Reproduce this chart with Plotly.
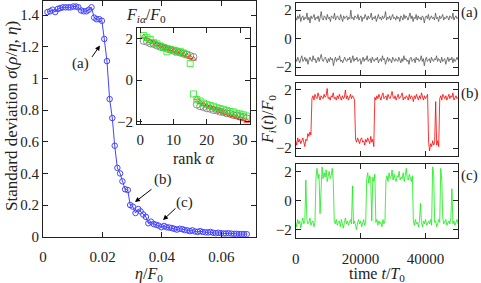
import numpy as np
import plotly.graph_objects as go

# ---------------- data ----------------
eta = [0.0015, 0.0024, 0.0032, 0.0041, 0.0050, 0.0058, 0.0067, 0.0076, 0.0085, 0.0093,
       0.0102, 0.0111, 0.0119, 0.0128, 0.0137, 0.0146, 0.0154, 0.0163, 0.0172, 0.0180,
       0.0189, 0.0198, 0.0206, 0.0215, 0.0224, 0.0233, 0.0241, 0.0250, 0.0259, 0.0267,
       0.0276, 0.0285, 0.0293, 0.0302, 0.0311, 0.0320, 0.0328, 0.0337, 0.0346, 0.0354,
       0.0363, 0.0372, 0.0381, 0.0389, 0.0398, 0.0407, 0.0415, 0.0424, 0.0433, 0.0441,
       0.0450, 0.0459, 0.0468, 0.0476, 0.0485, 0.0494, 0.0502, 0.0511, 0.0520, 0.0528,
       0.0537, 0.0546, 0.0555, 0.0563, 0.0572, 0.0581, 0.0589, 0.0598, 0.0607, 0.0615,
       0.0624, 0.0633, 0.0642, 0.0650, 0.0659, 0.0668, 0.0676, 0.0685]
sigma = [1.42, 1.425, 1.435, 1.42, 1.44, 1.445, 1.45, 1.45, 1.45, 1.45,
         1.455, 1.455, 1.45, 1.43, 1.425, 1.425, 1.435, 1.45, 1.385, 1.375,
         1.375, 1.365, 1.25, 1.11, 0.87, 0.75, 0.575, 0.435, 0.40, 0.35,
         0.30, 0.295, 0.20, 0.19, 0.15, 0.175, 0.16, 0.14, 0.125, 0.085,
         0.095, 0.08, 0.075, 0.07, 0.06, 0.068, 0.06, 0.058, 0.055, 0.05,
         0.045, 0.05, 0.048, 0.042, 0.04, 0.035, 0.04, 0.033, 0.03, 0.035,
         0.03, 0.028, 0.027, 0.03, 0.025, 0.022, 0.025, 0.022, 0.02, 0.02,
         0.022, 0.019, 0.018, 0.018, 0.017, 0.017, 0.016, 0.016]

rank = [1, 2, 3, 4, 5, 6, 7, 8, 9, 10, 11, 12, 13, 14, 15, 16,
        17, 18, 19, 20, 21, 22, 23, 24, 25, 26, 27, 28, 29, 30, 31, 32]
F_gray = [1.88, 1.84, 1.76, 1.73, 1.66, 1.60, 1.57, 1.51, 1.47, 1.41, 1.39, 1.32, 1.27, 1.23, 1.17, 1.11,
          -1.17, -1.25, -1.29, -1.35, -1.37, -1.43, -1.45, -1.51, -1.53, -1.59, -1.61, -1.67, -1.69, -1.75, -1.77, -1.83]
F_red = [2.08, 1.98, 1.86, 1.80, 1.72, 1.65, 1.60, 1.53, 1.49, 1.42, 1.37, 1.32, 1.25, 1.18, 1.10, 1.02,
         -0.88, -1.05, -1.15, -1.22, -1.30, -1.35, -1.42, -1.48, -1.53, -1.60, -1.66, -1.70, -1.76, -1.82, -1.88, -1.96]
F_green = [2.14, 2.04, 1.95, 1.80, 1.74, 1.64, 1.56, 1.36, 1.48, 1.44, 1.34, 1.38, 1.30, 1.22, 0.80,
           -0.66, -0.92, -1.00, -1.10, -1.16, -1.22, -1.25, -1.32, -1.36, -1.40, -1.45, -1.50, -1.52, -1.58, -1.62, -1.66, -1.72]

a_top = [1.5, 1.3, 1.6, 1.4, 1.7, 1.2, 1.5, 1.6, 1.3, 1.5,
         1.4, 1.8, 1.3, 1.5, 1.1, 1.6, 1.4, 1.5, 1.7, 1.3,
         1.5, 1.4, 1.6, 1.2, 1.5, 1.9, 1.4, 1.3, 1.6, 1.5,
         1.3, 1.7, 1.4, 1.5, 1.2, 1.6, 1.5, 1.4, 1.8, 1.3,
         1.5, 1.6, 1.4, 1.3, 1.7, 1.5, 1.2, 1.6, 1.4, 1.5,
         1.6, 1.3, 1.5, 1.4, 2.0, 1.4, 1.5, 1.3, 1.6, 1.5,
         1.4, 1.7, 1.3, 1.5, 1.6, 1.2, 1.5, 1.4, 1.7, 1.5,
         1.3, 1.6, 1.4, 1.5, 1.8, 1.3, 1.5, 1.4, 1.6, 1.2,
         1.5, 1.7, 1.4, 1.5, 1.3, 1.6, 1.4, 1.5, 1.9, 1.3,
         1.5, 1.4, 1.6, 1.3, 1.5, 1.7, 1.4, 1.5, 1.3, 1.6,
         1.4, 1.5, 1.2, 1.6, 1.5, 1.3, 1.7, 1.4, 1.6, 1.5,
         1.3, 1.5, 1.8, 1.4, 1.6, 1.2, 1.5, 1.4, 1.7, 1.3,
         1.6, 1.4, 1.5, 1.3, 1.6, 1.5, 1.1, 1.5, 1.6, 1.4,
         1.7, 1.3, 1.5, 1.6, 1.4, 1.5, 1.3, 1.8, 1.4, 1.5,
         1.2, 1.6, 1.4, 1.5, 1.7, 1.3, 1.5, 1.4, 1.6, 1.5,
         1.3, 1.6, 1.5, 1.4, 1.8, 1.3, 1.5, 1.6, 1.4, 1.5]
a_bot = [-1.4, -1.6, -1.3, -1.5, -1.7, -1.4, -1.2, -1.6, -1.5, -1.3,
         -1.6, -1.4, -1.8, -1.5, -1.3, -1.5, -1.6, -1.2, -1.5, -1.4,
         -1.7, -1.5, -1.3, -1.6, -1.4, -1.1, -1.5, -1.6, -1.4, -1.3,
         -1.5, -1.7, -1.4, -1.6, -1.3, -1.5, -1.4, -1.9, -1.5, -1.3,
         -1.6, -1.4, -1.5, -1.2, -1.6, -1.5, -1.7, -1.4, -1.3, -1.5,
         -1.6, -1.4, -1.5, -1.3, -1.7, -1.5, -1.2, -1.6, -1.4, -1.5,
         -1.3, -1.6, -1.5, -1.4, -1.8, -1.5, -1.3, -1.6, -1.4, -1.5,
         -1.2, -1.6, -1.5, -1.4, -1.7, -1.3, -1.5, -1.6, -1.4, -1.5,
         -1.3, -1.7, -1.5, -1.4, -1.6, -1.2, -1.5, -1.4, -1.8, -1.5,
         -1.3, -1.6, -1.4, -1.5, -1.7, -1.3, -1.5, -1.6, -1.4, -1.5,
         -1.6, -1.3, -1.5, -1.7, -1.4, -1.6, -1.2, -1.5, -1.4, -1.6,
         -1.5, -1.8, -1.4, -1.3, -1.6, -1.5, -1.4, -1.7, -1.3, -1.5,
         -1.4, -1.6, -1.5, -1.2, -1.6, -1.4, -1.9, -1.5, -1.3, -1.6,
         -1.5, -1.4, -1.7, -1.3, -1.5, -1.6, -1.4, -1.5, -1.2, -1.6,
         -1.4, -1.5, -1.7, -1.3, -1.6, -1.5, -1.4, -1.8, -1.5, -1.3,
         -1.6, -1.4, -1.5, -1.3, -1.7, -1.4, -1.6, -1.5, -1.3, -1.5]
b_red = [-1.5, -1.8, -1.3, -1.6, -1.4, -1.7, -1.5, -1.3, -1.6, -1.9, -1.4, -1.5, -1.0, -1.2, -0.9, -1.1,
         1.4, 1.6, 1.3, 1.7, 1.5, 1.4, 1.8, 1.5, 1.3, 1.6,
         1.5, 1.4, 1.7, 1.5, 1.6, 2.1, 1.4, 1.5, 1.3, 1.6,
         1.5, 1.8, 1.4, 1.5, 1.3, 1.6, 1.4, 1.7, 1.5, 1.3,
         1.6, 1.4, 1.5, 2.0, 1.4, 1.6, 1.3, 1.5, 1.7, 1.4,
         1.6, 1.5, 1.3,
         -1.4, -1.6, -1.3, -1.5, -1.7, -1.4, -1.3, -1.6, -1.5, -1.8,
         -1.4, -1.6, -1.3, -1.5, -1.7, -1.2, -1.6, -1.4, -1.9,
         1.5, 1.3, 1.6, 1.4, 1.7, 1.5, 1.3, 1.6, 1.8, 1.4,
         1.5, 1.6, 1.3, 1.7, 1.5, 1.4, 1.6, 1.9, 1.5, 1.4,
         1.6, 1.3, 1.5, 1.7, 1.4, 1.5, 1.6, 1.8, 1.3, 1.5,
         1.4, 1.6, 1.5, 1.3, 1.7, 1.4, 1.6, 1.5, 1.2, 1.6,
         1.4, 1.7, 1.5, 1.3, 1.6, 1.4, 1.8, 1.5, 1.3, 1.6,
         1.4, 1.5, 1.7,
         -1.6, -2.2, -1.7, -1.9, -1.5, -1.8, -1.6,
         1.2,
         -1.8, -1.5, -1.9,
         1.4, 1.6, 1.3, 1.7, 1.5, 1.4, 1.6, 1.3, 1.5, 1.7,
         1.4, 1.6, 1.5, 1.8, 1.3, 1.5, 1.6, 1.4, 1.5]
c_green = [-1.5, -1.8, -1.3, -1.6, -1.4, -1.9, -1.5, -1.2, -1.6, -1.4,
           1.4,
           -1.3, -1.6, -1.5, -1.2, -1.7, -1.5, -1.4, -1.8, -1.5,
           1.6, 2.2, 1.5, 1.8, -0.9, 1.4, 2.3, 1.5, 1.9, 1.6, 2.1, 1.3, 1.8, 2.0, 1.5, 1.7, 2.2, 1.4,
           -1.4, -1.6, -1.3, -1.7, -1.5, -1.4, -1.8, -1.3, -1.6, -1.9, -1.5, -1.2, -1.6, -1.4, -1.7, -1.5, -1.3, -1.6,
           1.0,
           -1.6, -1.4, -1.7, -2.0, -1.5, -1.3, -1.6, -1.4, -1.8, -1.5, -1.3, -1.7, -1.5,
           1.5, 1.9, 1.2, 1.7, 1.4, -1.4, 1.6, 1.3, 1.8,
           -1.5, -1.3, -1.7, -1.4, -1.6, -1.5, -1.8, -1.3, -1.6, -1.4,
           1.4, 1.7, 1.3, 1.9, 1.5, 1.6, 2.1, 1.4, 1.8, 1.5, 1.3, 1.7, 1.6, 2.0, 1.4, 1.6, 1.5, 1.9,
           1.3, 1.7, 2.2, 1.5, 1.4, 1.8, 1.6, 1.3, 1.7,
           -1.4, -1.7, -1.3, -1.6, -1.5, -1.8, -1.4, -0.2, -1.5, -1.8,
           -1.4, -1.6, -1.3, -1.7, -1.5, -1.4, -1.6, -1.3, -1.7, 2.3,
           1.8, -1.5, -1.4, -1.8, -1.6, -1.3, -1.5, 2.2, 1.4, -1.2,
           -1.6, -1.4, -1.3, -1.7, -1.5, -1.4, -1.6, -1.2, 0.8, -1.6,
           -1.4, -1.7, -1.5, -1.3, -1.6]
T_MAX = 50000

# ---------------- style ----------------
W, H = 481, 283
FONT = "Liberation Serif"
INK = "#222222"
BLUE = "#4444ff"


def px(x):
    return x / W


def py(y):
    return 1 - y / H


fig = go.Figure()

# main curve
fig.add_trace(go.Scatter(x=eta, y=sigma, mode="lines+markers", xaxis="x", yaxis="y",
                         line=dict(color=BLUE, width=1),
                         marker=dict(symbol="circle-open", size=5.5, color=BLUE, line=dict(width=1))))
# inset
fig.add_trace(go.Scatter(x=rank, y=F_gray, mode="markers", xaxis="x2", yaxis="y2",
                         marker=dict(symbol="circle-open", size=7, color="#777777", line=dict(width=0.8))))
fig.add_trace(go.Scatter(x=rank, y=F_red, mode="markers", xaxis="x2", yaxis="y2",
                         marker=dict(symbol="triangle-up-open", size=5, color="#ff2020", line=dict(width=0.8))))
fig.add_trace(go.Scatter(x=rank, y=F_green, mode="markers", xaxis="x2", yaxis="y2",
                         marker=dict(symbol="square-open", size=6, color="#22ee22", line=dict(width=0.8))))

# time series
for vals, color, ax in [(a_top, "#555555", "3"), (a_bot, "#555555", "3"),
                        (b_red, "#ff0000", "4"), (c_green, "#11ee11", "5")]:
    t = np.linspace(0, T_MAX, len(vals))
    fig.add_trace(go.Scatter(x=t, y=vals, mode="lines", xaxis="x" + ax, yaxis="y" + ax,
                             line=dict(color=color, width=0.8)))

axis_style = dict(showline=True, linecolor=INK, linewidth=1, mirror="ticks", ticks="inside",
                  ticklen=5, tickcolor=INK, tickwidth=1, showgrid=False, zeroline=False,
                  automargin=False, tickfont=dict(family=FONT, size=15, color=INK))

layout = dict(
    width=W, height=H, margin=dict(l=0, r=0, t=0, b=0, autoexpand=False),
    paper_bgcolor="white", plot_bgcolor="white", showlegend=False,
    font=dict(family=FONT, size=15, color=INK),
    xaxis=dict(domain=[px(43), px(256)], range=[0, 0.0716], tickvals=[0, 0.02, 0.04, 0.06],
               anchor="y", ticklabelstandoff=6, **axis_style),
    yaxis=dict(domain=[py(236.7), py(1)], range=[0, 1.49], dtick=0.2, anchor="x", **axis_style),
    xaxis2=dict(domain=[px(137), px(250)], range=[-1, 33], tickvals=[0, 10, 20, 30],
                anchor="y2", ticklabelstandoff=2, **axis_style),
    yaxis2=dict(domain=[py(124), py(28)], range=[-2.1, 2.5], tickvals=[-2, 0, 2],
                anchor="x2", **axis_style),
)
panels = {"3": (3, 75), "4": (82.7, 156), "5": (164, 237.7)}
for k, (top, bot) in panels.items():
    layout["xaxis" + k] = dict(domain=[px(295.7), px(458)], range=[0, T_MAX],
                               tickvals=[0, 20000, 40000], tickformat="d", anchor="y" + k,
                               showticklabels=(k == "5"), ticklabelstandoff=7, **axis_style)
    layout["yaxis" + k] = dict(domain=[py(bot), py(top)], range=[-2.55, 2.5],
                               tickvals=[-2, 0, 2], anchor="x" + k, **axis_style)

fig.update_layout(**layout)

# text annotations
ann = []


def txt(x, y, s, angle=0, size=15, xanchor="center"):
    ann.append(dict(x=px(x), y=py(y), xref="paper", yref="paper", text=s, showarrow=False,
                    textangle=angle, xanchor=xanchor, yanchor="middle",
                    font=dict(family=FONT, size=size, color=INK)))


txt(11, 116, "Standard deviation <i>σ</i>(<i>ρ</i>/<i>η</i>, <i>η</i>)", angle=-90, size=17)
txt(149, 274, "<i>η</i>/<i>F</i><sub>0</sub>", size=16)
txt(124, 15, "<i>F</i><sub><i>iα</i></sub>/<i>F</i><sub>0</sub>", size=16, xanchor="left")
txt(193.5, 158, "rank <i>α</i>", size=16)
txt(268, 120, "<i>F<sub>i</sub></i>(<i>t</i>)/<i>F</i><sub>0</sub>", angle=-90, size=16)
txt(377, 274, "time <i>t</i>/<i>T</i><sub>0</sub>", size=16)
txt(459, 12.7, "(a)", xanchor="left")
txt(459, 94, "(b)", xanchor="left")
txt(459, 175, "(c)", xanchor="left")

# arrow labels in main plot (data coordinates)
for (tx, ty, label), (hx, hy), (sx, sy) in [
    ((0.01244, 1.096, "(a)"), (0.01916, 1.209), (0.01613, 1.127)),
    ((0.04034, 0.363, "(b)"), (0.03092, 0.219), (0.03697, 0.307)),
    ((0.04773, 0.219, "(c)"), (0.04034, 0.105), (0.04504, 0.188)),
]:
    ann.append(dict(x=tx, y=ty, xref="x", yref="y", text=label, showarrow=False,
                    font=dict(family=FONT, size=15, color=INK)))
    ann.append(dict(x=hx, y=hy, ax=sx, ay=sy, xref="x", yref="y", axref="x", ayref="y",
                    text="", showarrow=True, arrowhead=2, arrowsize=1, arrowwidth=1,
                    arrowcolor="black"))

fig.update_layout(annotations=ann)
fig.write_html("out.html", config={"displayModeBar": False},
               post_script="document.body.style.margin='0';document.body.style.padding='0';")
